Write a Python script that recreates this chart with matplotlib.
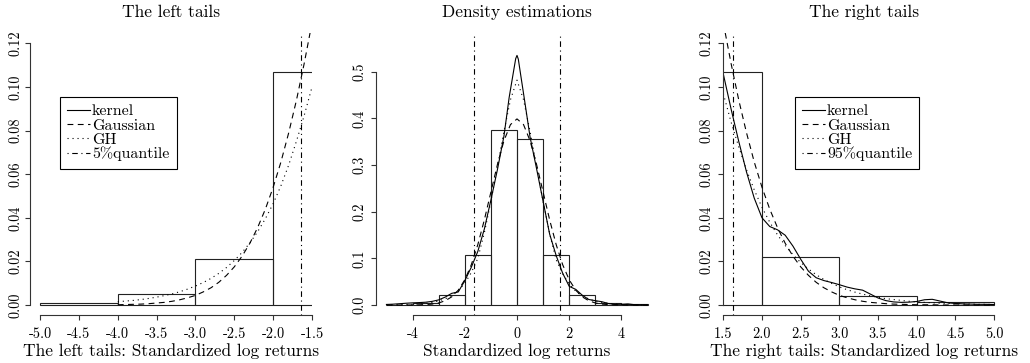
import matplotlib
matplotlib.use("Agg")
import matplotlib.pyplot as plt
from matplotlib.lines import Line2D

plt.rcParams['font.family'] = ['cmr10', 'DejaVu Serif']
plt.rcParams['axes.unicode_minus'] = False
plt.rcParams['axes.formatter.use_mathtext'] = True
plt.rcParams['lines.scale_dashes'] = False

# ---------------- data ----------------
hist_edges = [-5, -4, -3, -2, -1, 0, 1, 2, 3, 4, 5]
hist_heights = [0.0011, 0.0049, 0.0212, 0.1067, 0.375, 0.355, 0.1067, 0.0222, 0.0043, 0.0012]

q_low = -1.64
q_high = 1.63

# middle panel curves
mid_x_kernel = [-5.0, -4.75, -4.5, -4.25, -4.0, -3.75, -3.5, -3.25, -3.0, -2.75, -2.5, -2.25,
                -2.0, -1.75, -1.5, -1.25, -1.0, -0.75, -0.5, -0.3, -0.15, -0.05, 0.0, 0.05,
                0.15, 0.3, 0.5, 0.75, 1.0, 1.25, 1.5, 1.75, 2.0, 2.25, 2.5, 2.75, 3.0, 3.25,
                3.5, 3.75, 4.0, 4.25, 4.5, 4.75, 5.0]
mid_kernel = [0.0012, 0.0018, 0.0028, 0.0038, 0.0046, 0.0052, 0.0060, 0.0078, 0.0110, 0.0170,
              0.0250, 0.0280, 0.0520, 0.0810, 0.115, 0.163, 0.225, 0.290, 0.362, 0.445, 0.495,
              0.528, 0.535, 0.527, 0.490, 0.435, 0.360, 0.292, 0.222, 0.152, 0.106, 0.068,
              0.040, 0.0335, 0.021, 0.0118, 0.0093, 0.0071, 0.0032, 0.0013, 0.0016, 0.0024,
              0.0007, 0.0004, 0.0002]

mid_x = [-5.0, -4.75, -4.5, -4.25, -4.0, -3.75, -3.5, -3.25, -3.0, -2.75, -2.5, -2.25, -2.0,
         -1.75, -1.5, -1.25, -1.0, -0.75, -0.5, -0.25, 0.0, 0.25, 0.5, 0.75, 1.0, 1.25, 1.5,
         1.75, 2.0, 2.25, 2.5, 2.75, 3.0, 3.25, 3.5, 3.75, 4.0, 4.25, 4.5, 4.75, 5.0]
mid_gauss = [0.0, 0.0, 0.0, 0.0, 0.0001, 0.0004, 0.0009, 0.0020, 0.0044, 0.0091, 0.0175, 0.0317,
             0.0540, 0.0863, 0.1295, 0.1826, 0.2420, 0.3011, 0.3521, 0.3867, 0.3989, 0.3867,
             0.3521, 0.3011, 0.2420, 0.1826, 0.1295, 0.0863, 0.0540, 0.0317, 0.0175, 0.0091,
             0.0044, 0.0020, 0.0009, 0.0004, 0.0001, 0.0, 0.0, 0.0, 0.0]
mid_gh = [0.0003, 0.0005, 0.0007, 0.0010, 0.0015, 0.0023, 0.0036, 0.0056, 0.0087, 0.0133, 0.0204,
          0.0310, 0.0465, 0.0695, 0.100, 0.155, 0.222, 0.297, 0.372, 0.440, 0.482, 0.440, 0.372,
          0.297, 0.222, 0.153, 0.097, 0.067, 0.0448, 0.0297, 0.0195, 0.0128, 0.0083, 0.0054,
          0.0035, 0.0023, 0.0014, 0.0009, 0.0006, 0.0004, 0.0002]

# left tail curves
left_x = [-4.0, -3.9, -3.8, -3.7, -3.6, -3.5, -3.4, -3.3, -3.2, -3.1, -3.0, -2.9, -2.8, -2.7,
          -2.6, -2.5, -2.4, -2.3, -2.2, -2.1, -2.0, -1.9, -1.8, -1.7, -1.6, -1.5]
left_gauss = [0.0001, 0.0002, 0.0003, 0.0004, 0.0006, 0.0009, 0.0012, 0.0017, 0.0024, 0.0033,
              0.0044, 0.0060, 0.0079, 0.0104, 0.0136, 0.0175, 0.0224, 0.0283, 0.0355, 0.0440,
              0.0540, 0.0656, 0.0790, 0.0940, 0.1109, 0.1295]
left_gh = [0.0015, 0.0018, 0.0021, 0.0025, 0.0030, 0.0036, 0.0043, 0.0051, 0.0061, 0.0073,
           0.0087, 0.0103, 0.0122, 0.0145, 0.0172, 0.0204, 0.0241, 0.0285, 0.0336, 0.0396,
           0.0465, 0.0547, 0.0642, 0.0752, 0.0870, 0.1000]

# right tail curves
right_x = [1.5, 1.6, 1.7, 1.8, 1.9, 2.0, 2.1, 2.2, 2.3, 2.4, 2.5, 2.6, 2.7, 2.8, 2.9, 3.0,
           3.1, 3.2, 3.3, 3.4, 3.5, 3.6, 3.7, 3.8, 3.9, 4.0, 4.1, 4.2, 4.3, 4.4, 4.5, 4.6,
           4.7, 4.8, 4.9, 5.0]
right_kernel = [0.106, 0.090, 0.075, 0.061, 0.049, 0.040, 0.036, 0.0345, 0.032, 0.027, 0.021,
                0.0155, 0.0125, 0.0112, 0.0103, 0.0093, 0.0082, 0.0074, 0.0068, 0.0050, 0.0032,
                0.0020, 0.0014, 0.0012, 0.0013, 0.0016, 0.0024, 0.0026, 0.0018, 0.0010, 0.0007,
                0.0005, 0.0004, 0.0003, 0.0003, 0.0002]
right_gauss = [0.1295, 0.1109, 0.0940, 0.0790, 0.0656, 0.0540, 0.0440, 0.0355, 0.0283, 0.0224,
               0.0175, 0.0136, 0.0104, 0.0079, 0.0060, 0.0044, 0.0033, 0.0024, 0.0017, 0.0012,
               0.0009, 0.0006, 0.0004, 0.0003, 0.0002, 0.0001, 0.0001, 0.0001, 0.0, 0.0, 0.0,
               0.0, 0.0, 0.0, 0.0, 0.0]
right_gh = [0.097, 0.084, 0.0725, 0.0620, 0.0528, 0.0448, 0.0380, 0.0322, 0.0273, 0.0231, 0.0195,
            0.0165, 0.0139, 0.0117, 0.0099, 0.0083, 0.0070, 0.0059, 0.0050, 0.0042, 0.0035,
            0.0029, 0.0025, 0.0021, 0.0017, 0.0014, 0.0012, 0.0010, 0.0008, 0.0007, 0.0006,
            0.0005, 0.0004, 0.0003, 0.0003, 0.0002]

titles = ["The left tails", "Density estimations", "The right tails"]
xlabels = ["The left tails: Standardized log returns", "Standardized log returns",
           "The right tails: Standardized log returns"]
left_xticks = [-5.0, -4.5, -4.0, -3.5, -3.0, -2.5, -2.0, -1.5]
left_xticklabels = ["-5.0", "-4.5", "-4.0", "-3.5", "-3.0", "-2.5", "-2.0", "-1.5"]
mid_xticks = [-4, -2, 0, 2, 4]
mid_xticklabels = ["-4", "-2", "0", "2", "4"]
right_xticks = [1.5, 2.0, 2.5, 3.0, 3.5, 4.0, 4.5, 5.0]
right_xticklabels = ["1.5", "2.0", "2.5", "3.0", "3.5", "4.0", "4.5", "5.0"]
tail_yticks = [0.00, 0.02, 0.04, 0.06, 0.08, 0.10, 0.12]
tail_yticklabels = ["0.00", "0.02", "0.04", "0.06", "0.08", "0.10", "0.12"]
mid_yticks = [0.0, 0.1, 0.2, 0.3, 0.4, 0.5]
mid_yticklabels = ["0.0", "0.1", "0.2", "0.3", "0.4", "0.5"]
legend_left = ["kernel", "Gaussian", "GH", "5%quantile"]
legend_right = ["kernel", "Gaussian", "GH", "95%quantile"]

# ---------------- styles ----------------
LW = 0.8
DASHED = (0, (4.2, 3.2))
DOTTED = (0, (0.8, 2.8))
DASHDOT = (0, (0.8, 2.6, 4.0, 2.6))
FS_TITLE = 12.5
FS_TICK = 10.3
FS_LEG = 11.5

W, H = 1030, 363
fig = plt.figure(figsize=(W / 100, H / 100), dpi=100)


def px_axes(x0, x1, y0, y1):
    return fig.add_axes([x0 / W, (H - y1) / H, (x1 - x0) / W, (y1 - y0) / H])


axL = px_axes(30, 312, 33, 315)
axM = px_axes(376, 658, 33, 315)
axR = px_axes(723.3, 1005, 33, 315)

widths = [hist_edges[i + 1] - hist_edges[i] for i in range(len(hist_heights))]
for ax in (axL, axM, axR):
    ax.bar(hist_edges[:-1], hist_heights, width=widths, align='edge', fill=False,
           edgecolor='#222222', linewidth=LW)

# left
axL.plot(left_x, left_gauss, color='black', lw=LW, linestyle=DASHED)
axL.plot(left_x, left_gh, color='black', lw=LW, linestyle=DOTTED)
axL.axvline(q_low, color='black', lw=LW, linestyle=DASHDOT)
axL.set_xlim(-5.13, -1.5)
axL.set_ylim(-0.0046, 0.1248)

# middle
axM.plot(mid_x_kernel, mid_kernel, color='black', lw=LW, linestyle='-')
axM.plot(mid_x, mid_gauss, color='black', lw=LW, linestyle=DASHED)
axM.plot(mid_x, mid_gh, color='black', lw=LW, linestyle=DOTTED)
axM.axvline(q_low, color='black', lw=LW, linestyle=DASHDOT)
axM.axvline(q_high, color='black', lw=LW, linestyle=DASHDOT)
axM.set_xlim(-5.4, 5.4)
axM.set_ylim(-0.0214, 0.583)

# right
axR.plot(right_x, right_kernel, color='black', lw=LW, linestyle='-')
axR.plot(right_x, right_gauss, color='black', lw=LW, linestyle=DASHED)
axR.plot(right_x, right_gh, color='black', lw=LW, linestyle=DOTTED)
axR.axvline(q_high, color='black', lw=LW, linestyle=DASHDOT)
axR.set_xlim(1.5, 5.14)
axR.set_ylim(-0.0046, 0.1248)

specs = [
    (axL, left_xticks, left_xticklabels, tail_yticks, tail_yticklabels),
    (axM, mid_xticks, mid_xticklabels, mid_yticks, mid_yticklabels),
    (axR, right_xticks, right_xticklabels, tail_yticks, tail_yticklabels),
]
for i, (ax, xt, xtl, yt, ytl) in enumerate(specs):
    for s in ('top', 'right'):
        ax.spines[s].set_visible(False)
    ax.spines['left'].set_bounds(yt[0], yt[-1])
    ax.spines['bottom'].set_bounds(xt[0], xt[-1])
    for s in ('left', 'bottom'):
        ax.spines[s].set_linewidth(LW)
        ax.spines[s].set_color('#333333')
    ax.set_xticks(xt)
    ax.set_xticklabels(xtl, fontsize=FS_TICK)
    ax.set_yticks(yt)
    ax.set_yticklabels(ytl, fontsize=FS_TICK, rotation=90, va='center')
    ax.tick_params(axis='both', direction='out', length=3.5, width=LW, color='#333333')
    ax.tick_params(axis='x', pad=5)
    ax.tick_params(axis='y', pad=2 if i == 0 else 3.5)
    ax.set_title(titles[i], fontsize=FS_TITLE, y=1.0557, pad=0, va='baseline')
    ax.set_xlabel(xlabels[i], fontsize=FS_TITLE, va='baseline')
    ax.xaxis.set_label_coords(0.5, -0.1454)
    ax.patch.set_visible(False)

handles = [Line2D([], [], color='black', lw=LW, linestyle='-'),
           Line2D([], [], color='black', lw=LW, linestyle=DASHED),
           Line2D([], [], color='black', lw=LW, linestyle=DOTTED),
           Line2D([], [], color='black', lw=LW, linestyle=DASHDOT)]

for ax, labels, (bx, by) in ((axL, legend_left, (60, 97)), (axR, legend_right, (795, 97))):
    x0, x1 = ax.get_position().x0 * W, ax.get_position().x1 * W
    ax_x = (bx - x0) / (x1 - x0)
    ax_y = (315 - by) / 282
    leg = ax.legend(handles, labels, loc='upper left', bbox_to_anchor=(ax_x, ax_y),
                    borderaxespad=0, fontsize=FS_LEG, frameon=True, fancybox=False,
                    framealpha=1, edgecolor='black', handlelength=1.45, handletextpad=0.1,
                    labelspacing=0.0, borderpad=0.45)
    leg.get_frame().set_linewidth(LW)

fig.savefig("out.png", dpi=100)
